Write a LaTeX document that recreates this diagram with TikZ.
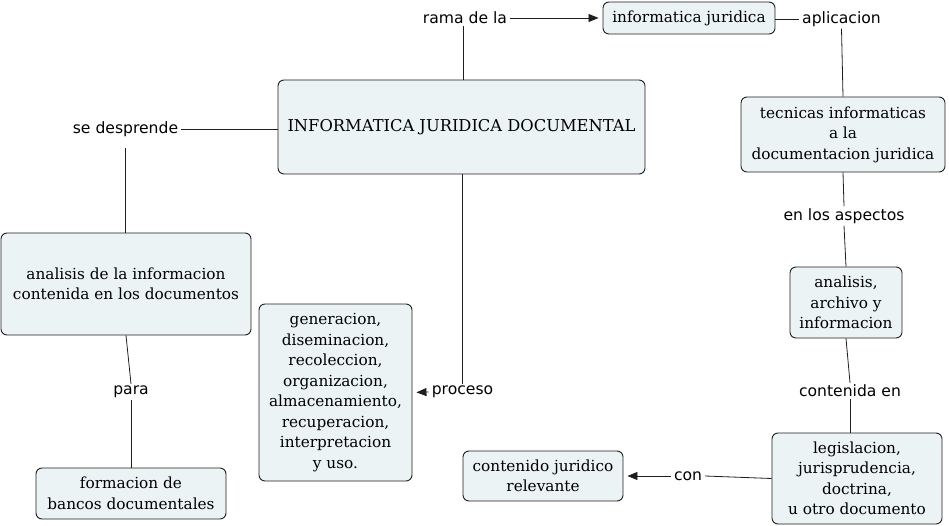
\documentclass[tikz,border=0pt]{standalone}
\usepackage{fontspec}
\setmainfont{DejaVu Serif}
\newfontfamily\lblfont{DejaVu Sans}
\usetikzlibrary{arrows.meta}
\definecolor{boxfill}{RGB}{236,243,245}
\definecolor{boxline}{RGB}{30,30,30}
\tikzset{
  concept/.style={draw=boxline, fill=boxfill, rounded corners=6pt, line width=0.9pt,
    align=center, inner sep=0pt, font=\fontsize{15.3}{20.5}\selectfont},
  lbl/.style={font=\lblfont\fontsize{15.6}{18}\selectfont, inner xsep=3pt, inner ysep=2pt},
  conn/.style={draw=boxline, line width=0.8pt},
  arr/.style={conn, -{Triangle[length=10pt,width=8pt]}, shorten >=4pt},
}
\begin{document}
\begin{tikzpicture}[x=1pt,y=-1pt]
\useasboundingbox (0,0) rectangle (949,526);
% concepts
\node[concept, minimum width=367, minimum height=94, font=\fontsize{16.3}{20.5}\selectfont] (main) at (461.5,127) {INFORMATICA JURIDICA DOCUMENTAL};
\node[concept, minimum width=172, minimum height=32] (inf) at (689,18) {informatica juridica};
\node[concept, minimum width=204, minimum height=75] (tec) at (843,134.5) {tecnicas informaticas\\a la\\documentacion juridica};
\node[concept, minimum width=112, minimum height=71] (aa) at (846,302.5) {analisis,\\archivo y\\informacion};
\node[concept, minimum width=170, minimum height=91] (leg) at (857,478.5) {legislacion,\\jurisprudencia,\\doctrina,\\u otro documento};
\node[concept, minimum width=160, minimum height=50] (cont) at (543,476) {contenido juridico\\relevante};
\node[concept, minimum width=153, minimum height=177] (gen) at (335.5,392.5) {generacion,\\diseminacion,\\recoleccion,\\organizacion,\\almacenamiento,\\recuperacion,\\interpretacion\\y uso.};
\node[concept, minimum width=250, minimum height=102] (ana) at (126,284) {analisis de la informacion\\contenida en los documentos};
\node[concept, minimum width=190, minimum height=51] (form) at (131,493.5) {formacion de\\bancos documentales};
% labels
\node[lbl] (rama) at (465,18) {rama de la};
\node[lbl] (aplic) at (841.5,19) {aplicacion};
\node[lbl] (enlos) at (844,216) {en los aspectos};
\node[lbl] (contenida) at (850,391) {contenida en};
\node[lbl] (con) at (688,476) {con};
\node[lbl] (proceso) at (462.5,392) {proceso};
\node[lbl] (sd) at (125.5,129) {se desprende};
\node[lbl] (para) at (131,392) {para};
% connectors
\draw[conn] ([xshift=-2pt]rama.south) -- ([xshift=-2pt]rama.south |- main.north);
\draw[arr] (rama.east) -- (inf.west);
\draw[conn] (inf.east |- aplic.west) -- (aplic.west);
\draw[conn] (aplic.south) -- (tec.north);
\draw[conn] (tec.south) -- (enlos.north);
\draw[conn] (enlos.south) -- (aa.north);
\draw[conn] (aa.south) -- (contenida.north);
\draw[conn] (contenida.south) -- (contenida.south |- leg.north);
\draw[conn] (leg.west) -- (con.east);
\draw[arr] (con.west) -- (cont.east);
\draw[conn] (proceso.north) -- (proceso.north |- main.south);
\draw[arr] (proceso.west) -- (gen.east);
\draw[conn] (main.west |- sd.east) -- (sd.east);
\draw[conn, shorten <=9pt] (sd.south) -- (sd.south |- ana.north);
\draw[conn] (ana.south) -- (para.north);
\draw[conn] (para.south) -- (form.north);
\end{tikzpicture}
\end{document}
